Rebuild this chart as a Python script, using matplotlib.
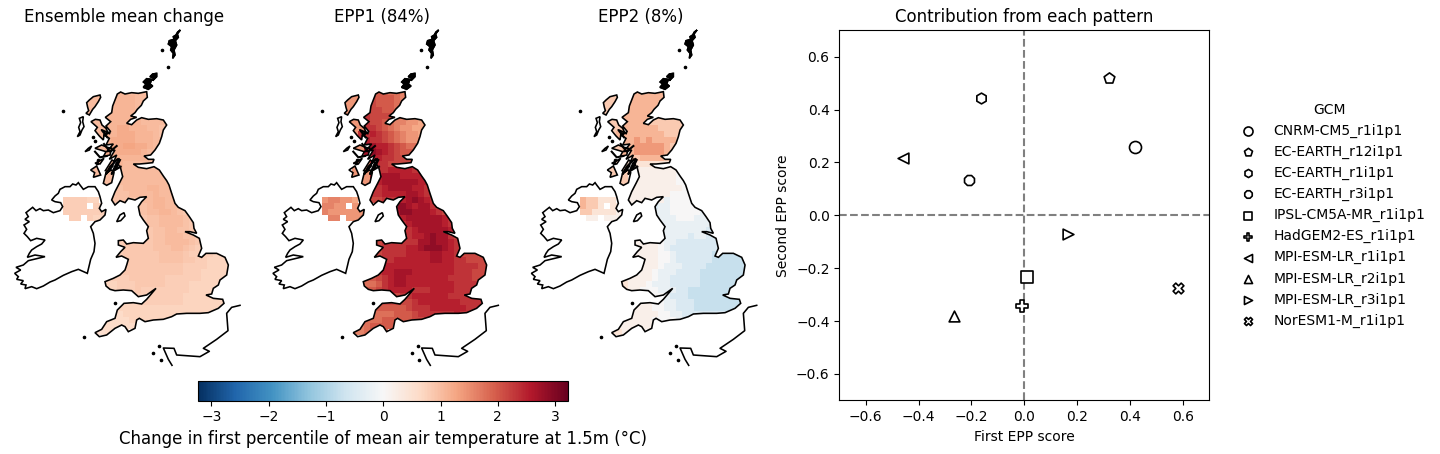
import numpy as np
import matplotlib
matplotlib.use("Agg")
import matplotlib.pyplot as plt
from matplotlib.path import Path
from matplotlib.patches import PathPatch
from matplotlib.colors import Normalize
from matplotlib.cm import ScalarMappable

# ---------- scatter data ----------
gcm_names = ["CNRM-CM5_r1i1p1", "EC-EARTH_r12i1p1", "EC-EARTH_r1i1p1", "EC-EARTH_r3i1p1",
             "IPSL-CM5A-MR_r1i1p1", "HadGEM2-ES_r1i1p1", "MPI-ESM-LR_r1i1p1",
             "MPI-ESM-LR_r2i1p1", "MPI-ESM-LR_r3i1p1", "NorESM1-M_r1i1p1"]
gcm_markers = ["o", "p", "h", "8", "s", "P", "<", "^", ">", "X"]
marker_area = [75, 65, 60, 60, 70, 65, 60, 60, 60, 60]
epp1_score = [0.42, 0.32, -0.165, -0.21, 0.01, -0.01, -0.46, -0.265, 0.165, 0.58]
epp2_score = [0.26, 0.52, 0.445, 0.135, -0.235, -0.345, 0.215, -0.38, -0.07, -0.275]
panel_titles = ["Ensemble mean change", "EPP1 (84%)", "EPP2 (8%)"]

# ---------- map field values: digit = level of one grid cell, '.' = no data ----------
gb_first_col = [9,9,9,8,8,8,8,7,7,8,8,9,9,9,9,9,9,9,9,13,13,13,14,14,14,9,9,9,10,10,9,7,7,8,10,10,9,8,7,6,5]
mean_gb = ["7776666","7777666","777766","7777766","77777766666","777777666655","778877766555","777888777655","778888777665","8889988766","8888887666","77777766","776666666","6666666666","66666666666","66666666665","55666677666","555666676665","555556677665","556776654","5566776543","44556666543","45566665432","44556655432","445566655432","33444445566665432","33444445556654322","33444444555543333222","3444444555544332222","3444444444433332222","33444444444433322222","2233344444433333322222","2223334444433332222222","22333433333333222222","2233333333322222222","2222333333322222222","2222222222222222222","1112222222222222222","11111222222211","111111111","0001111"]
epp1_gb = ["4443321","5444321","544432","5554432","65555443322","655432211000","665432110000","667654321100","776654321122","9877654333","8987654444","77665555","666555566","7667777666","77888777766","77888888776","66788887766","667777887666","556667898765","998788654","8998887654","77888888765","67888887665","66788888755","667789886554","55666666889887654","55666677899987654","45666677778877655544","5667777778877665555","5777777777777666655","56778887777777666555","4445678877777776666555","3334678877777777666655","44567777666777766666","4555667777776666666","4555556777777766666","3444445666777777666","3333344456666667666","23334444455666","223444455","2223333"]
epp2_gb = ["8888888","8888887","888887","8888887","88888887777","888877777777","888888777777","888888887777","888989888877","8899999877","8899999877","77888877","666666655","5555555555","55555555444","55555555444","55555555544","555555544444","555555344444","233444444","3334444433","33334443333","33333333322","23333333222","233332332222","55555433222222222","55555432222222211","55555443222222111111","5555443222222111111","5555433322221111111","54554333222211111111","5555554332222211111111","6655543332222211111122","65544433322111111122","5444432221111111122","5554433222111111111","5555443322211111111","5555554433222222222","55555544443333","655555544","6665555"]
ni_first_row, ni_first_col = 18, 1
mean_ni = ["333322", "3333.322", "33333333", ".33.3222"]
epp1_ni = ["122110", "2211.110", "21111111", ".22.1111"]
epp2_ni = ["877666", "8776.666", "77666655", ".55.5555"]
island_cells = [(1,4,4),(2,4,4),(3,4,3),(4,5,2),(5,5,3),(6,5,3),(7,5,3),(8,6,3),(9,6,3),(10,6,3),(11,6,3),(12,6,3),(13,6,4),(14,5,5),(15,7,3),(16,7,2)]
island_level = [6, 1, 7]
mean_levels = [0.55 + 0.08 * d for d in range(10)]
epp1_levels = [1.25 + 0.18 * d for d in range(10)]
epp2_levels = [-0.95, -0.75, -0.5, -0.25, 0.0, 0.2, 0.45, 0.85, 1.1, 1.4]
cbar_ticks = [-3, -2, -1, 0, 1, 2, 3]
cbar_label = "Change in first percentile of mean air temperature at 1.5m (\u00b0C)"

# ---------- coastlines (map units) ----------
great_britain = [
(352,222),(362,216),(375,222),(395,218),(415,220),(440,215),(442,232),(430,243),(424,256),(412,268),(405,278),(392,288),(410,292),(392,298),(380,310),(395,314),(410,300),(425,293),(445,298),(470,296),(490,300),(500,315),(490,330),(485,350),(478,370),(465,390),(452,405),(432,408),(445,418),(462,418),(458,428),(440,430),(418,432),(400,432),(415,442),(440,446),(462,440),(478,450),(490,468),(500,482),(507,495),(515,520),(525,550),(535,562),(555,572),(568,590),(580,608),(582,625),(590,640),(570,635),(555,635),(580,645),(598,655),(605,685),(595,708),(605,712),(618,700),(650,700),(675,712),(685,735),(680,765),(660,780),(655,795),(640,805),(635,822),(618,825),(640,835),(668,838),(672,850),(655,865),(625,878),(600,880),(560,880),(530,882),(515,890),(490,898),(460,900),(435,905),(418,895),(410,900),(405,925),(385,935),(375,920),(365,915),(345,925),(320,945),(298,950),(285,938),(305,928),(320,905),(345,895),(352,870),(372,850),(400,848),(425,852),(440,838),(468,805),(440,825),(415,830),(395,812),(370,810),(345,812),(330,808),(318,798),(315,785),(340,775),(360,765),(375,750),(380,735),(385,718),(365,708),(348,712),(362,695),(375,682),(355,675),(355,662),(370,660),(380,672),(400,668),(430,670),(445,655),(440,632),(445,620),(430,600),(420,585),(415,560),(425,545),(440,530),(420,532),(405,540),(385,535),(375,548),(360,542),(345,555),(335,540),(345,515),(358,490),(368,470),(362,445),(352,428),(358,415),(340,428),(350,405),(328,418),(345,390),(320,395),(340,372),(318,375),(328,355),(312,345),(332,335),(318,318),(332,305),(316,292),(335,278),(338,258),
]
ireland = [
(235,488),(228,495),(218,492),(210,500),(195,500),(180,508),(175,520),(165,528),(155,540),(165,545),(182,548),(188,560),(180,572),(160,578),(145,570),(130,572),(120,566),(108,572),(98,562),(88,570),(78,578),(85,590),(75,598),(88,605),(72,615),(80,628),(72,640),(82,650),(92,662),(110,655),(135,660),(125,672),(110,680),(95,690),(88,700),(82,712),(105,705),(135,710),(110,716),(85,722),(70,735),(48,742),(62,750),(44,760),(55,770),(50,778),(70,782),(62,792),(78,795),(75,806),(95,800),(110,806),(130,798),(150,786),(165,780),(190,766),(215,755),(235,748),(262,760),(268,735),(272,718),(282,695),(285,670),(280,640),(272,620),(285,605),(300,600),(315,585),(318,568),(305,575),(298,565),(305,550),(300,530),(295,515),(285,500),(265,500),(250,508),(240,495),
]
man = [(350,605),(360,585),(372,578),(375,588),(362,602)]
lewis = [(300,225),(280,230),(268,240),(260,248),(263,262),(266,272),(258,280),(268,285),(278,268),(285,260),(295,245),(302,232)]
uist = [(250,290),(238,295),(242,308),(236,322),(240,335),(232,350),(240,345),(246,330),(252,320),(248,305)]
skye = [(273,305),(286,298),(300,300),(306,315),(318,325),(325,340),(312,345),(310,360),(298,348),(285,332),(292,322)]
mull = [(285,385),(305,375),(322,382),(335,385),(330,405),(310,410),(318,395)]
tiree = [(255,395),(265,385),(275,378),(268,390)]
islay = [(272,450),(290,438),(302,465),(280,472),(284,458)]
jura = [(285,430),(312,415),(300,432)]
kintyre = [(310,490),(318,458),(335,450),(342,458),(335,488),(320,496)]
bute = [(316,452),(336,420),(344,425),(325,456)]
orkney_a = [(470,160),(458,162),(450,170),(462,175),(458,182),(470,170)]
orkney_b = [(455,178),(440,176),(430,186),(438,192),(430,202),(445,208),(458,198),(450,192)]
shetland = [(541,30),(533,36),(528,45),(520,50),(522,58),(508,62),(505,72),(515,80),(512,90),(520,100),(518,115),(525,105),(522,90),(530,75),(526,62),(535,52),(532,42)]
small_isles = [(190,273),(252,952),(345,850),(487,90),(505,142),(460,998),(483,1020),(478,978),(292,430),(278,352),(286,362),(295,420)]
france = [(720,856),(695,862),(680,880),(684,932),(650,958),(610,985),(628,994),(600,1010),(530,1005),(522,985),(490,984),(505,1018),(516,1036)]
sea_lochs = [[(350,378),(330,395),(312,372)], [(352,418),(330,440),(318,462),(338,438)], [(350,428),(335,462),(352,438)], [(328,340),(305,330),(322,352)], [(360,420),(345,450),(362,440)], [(285,395),(300,412),(320,408)]]

land = [great_britain, ireland, man, lewis, uist, skye, mull, tiree, islay, jura, kintyre, bute, orkney_a, orkney_b, shetland]

def closed_path(polys):
    verts, codes = [], []
    for p in polys:
        verts += list(p) + [p[0]]
        codes += [Path.MOVETO] + [Path.LINETO] * (len(p) - 1) + [Path.CLOSEPOLY]
    return Path(verts, codes)

def field(gb_rows, ni_rows, isle_digit, levels):
    a = np.full((41, 29), np.nan)
    for (r, c0, n) in island_cells:
        a[r, c0:c0 + n] = levels[isle_digit]
    for j, (r, c0) in enumerate(zip(gb_rows, gb_first_col)):
        for i, c in enumerate(r):
            if c0 + i < 29:
                a[j, c0 + i] = levels[int(c)]
    for j, r in enumerate(ni_rows):
        for i, c in enumerate(r):
            if c != ".":
                a[ni_first_row + j, ni_first_col + i] = levels[int(c)]
    return np.ma.masked_invalid(a)

W, H = 1440, 454
fig = plt.figure(figsize=(14.4, 4.54), dpi=100)
norm = Normalize(-3.23, 3.23)
cmap = "RdBu_r"
x_edges = 172 + 18 * np.arange(30)
y_edges = 206 + 18 * np.arange(42)
offsets = [0, 258.3, 516.7]
fields = [field(mean_gb, mean_ni, island_level[0], mean_levels),
          field(epp1_gb, epp1_ni, island_level[1], epp1_levels),
          field(epp2_gb, epp2_ni, island_level[2], epp2_levels)]
land_path = closed_path(land)

for off, data, title in zip(offsets, fields, panel_titles):
    ax = fig.add_axes([off / W, (H - 370) / H, 248 / W, 340 / H])
    ax.set_xlim(0, 744)
    ax.set_ylim(1050, 30)
    ax.axis("off")
    mesh = ax.pcolormesh(x_edges, y_edges, data, cmap=cmap, norm=norm, linewidth=0, antialiased=False)
    mesh.set_clip_path(PathPatch(land_path, transform=ax.transData))
    ax.add_patch(PathPatch(land_path, fc="none", ec="k", lw=1.15, clip_on=False))
    for filled in (shetland, orkney_a, orkney_b):
        ax.add_patch(PathPatch(closed_path([filled]), fc="k", ec="k", lw=1.0, clip_on=False))
    ax.plot(*zip(*france), color="k", lw=1.15, clip_on=False)
    for loch in sea_lochs:
        ax.plot(*zip(*loch), color="k", lw=1.5, clip_on=False)
    ax.plot(*zip(*small_isles), ls="none", marker="o", ms=1.6, color="k", clip_on=False)
    ax.set_title(title, fontsize=12, pad=6)

# ---------- colour bar ----------
cax = fig.add_axes([198.3 / W, (H - 400.6) / H, 370 / W, 19.3 / H])
cb = fig.colorbar(ScalarMappable(norm=norm, cmap=cmap), cax=cax, orientation="horizontal", ticks=cbar_ticks)
cb.set_label(cbar_label, fontsize=12)
cb.ax.tick_params(labelsize=10)

# ---------- scatter ----------
ax = fig.add_axes([839.3 / W, (H - 400.3) / H, 370 / W, 370 / H])
ax.axhline(0, color="grey", ls="--", lw=1.5, zorder=1)
ax.axvline(0, color="grey", ls="--", lw=1.5, zorder=1)
for n, m, s, x, y in zip(gcm_names, gcm_markers, marker_area, epp1_score, epp2_score):
    ax.scatter([x], [y], marker=m, s=s, fc="w", ec="k", lw=1.2, zorder=3, label=n)
ax.set_xlim(-0.7, 0.7)
ax.set_ylim(-0.7, 0.7)
tick_vals = [-0.6, -0.4, -0.2, 0, 0.2, 0.4, 0.6]
tick_text = ["\u22120.6", "\u22120.4", "\u22120.2", "0.0", "0.2", "0.4", "0.6"]
ax.set_xticks(tick_vals)
ax.set_yticks(tick_vals)
ax.set_xticklabels(tick_text)
ax.set_yticklabels(tick_text)
ax.set_xlabel("First EPP score", fontsize=10)
ax.set_ylabel("Second EPP score", fontsize=10)
ax.set_title("Contribution from each pattern", fontsize=12, pad=6)
leg = ax.legend(title="GCM", frameon=False, loc="center left", bbox_to_anchor=(1.034, 0.5), fontsize=10,
                title_fontsize=10, markerscale=0.75)
fig.savefig("out.png", dpi=100)
